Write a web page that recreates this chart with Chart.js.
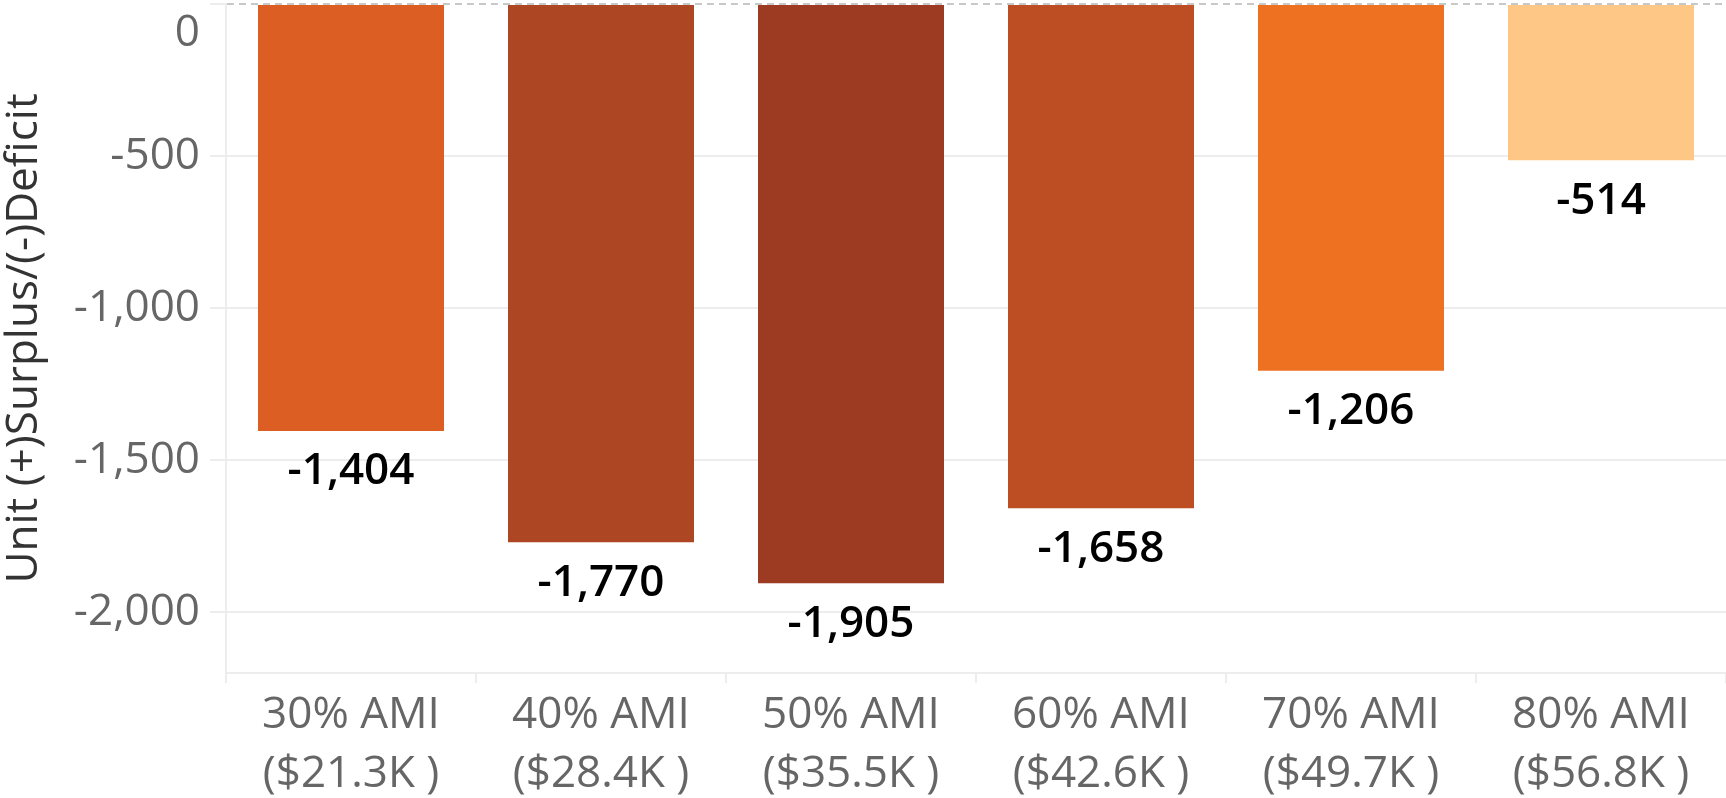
<!DOCTYPE html>
<html>
<head>
<meta charset="utf-8">
<title>Unit Surplus / Deficit by AMI Level</title>
<script src="https://cdn.jsdelivr.net/npm/chart.js@4/dist/chart.umd.min.js"></script>
<style>
  html, body { margin: 0; padding: 0; background: #ffffff; }
  #wrap { position: relative; width: 1726px; height: 798px; }
</style>
</head>
<body>
<div id="wrap"><canvas id="chart"></canvas></div>
<script>
// Income bands (percent of area median income) and their dollar thresholds
const amiLevels = ['30% AMI', '40% AMI', '50% AMI', '60% AMI', '70% AMI', '80% AMI'];
const incomeLimits = ['($21.3K )', '($28.4K )', '($35.5K )', '($42.6K )', '($49.7K )', '($56.8K )'];

// Unit surplus (+) / deficit (-) per band
const unitBalance = [-1404, -1770, -1905, -1658, -1206, -514];

// Bar fill per band
const barColors = ['#DC5E22', '#AC4623', '#9C3A22', '#BD4E24', '#EE7122', '#FFC785'];

// Value axis range and labelled ticks
const axisMin = -2200;
const axisMax = 0;
const yTicks = [-2000, -1500, -1000, -500, 0];

const FONT = '"Open Sans", "Noto Sans", sans-serif';
const GRID = '#ededed';

const fmt = v => v.toLocaleString('en-US');

// Writes each bar's value just below its end
const valueLabels = {
  id: 'valueLabels',
  afterDatasetsDraw(chart) {
    const { ctx } = chart;
    const meta = chart.getDatasetMeta(0);
    ctx.save();
    ctx.font = '600 44px ' + FONT;
    ctx.fillStyle = '#000000';
    ctx.textAlign = 'center';
    ctx.textBaseline = 'middle';
    meta.data.forEach((bar, i) => {
      ctx.fillText(fmt(unitBalance[i]), bar.x, bar.y + 41);
    });
    ctx.restore();
  }
};

new Chart(document.getElementById('chart'), {
  type: 'bar',
  data: {
    labels: amiLevels.map((lvl, i) => [lvl, incomeLimits[i]]),
    datasets: [{
      data: unitBalance,
      backgroundColor: barColors,
      borderWidth: 0,
      barPercentage: 0.744,
      categoryPercentage: 1
    }]
  },
  options: {
    responsive: true,
    maintainAspectRatio: false,
    devicePixelRatio: 1,
    animation: false,
    layout: { padding: { top: 4, right: 0, bottom: 0, left: 0 } },
    plugins: {
      legend: { display: false },
      tooltip: { enabled: false }
    },
    scales: {
      x: {
        grid: {
          offset: true,
          drawOnChartArea: false,
          drawTicks: true,
          tickLength: 10,
          tickColor: GRID,
          tickWidth: 2,
          lineWidth: 2,
          color: GRID
        },
        border: { display: true, color: GRID, width: 2 },
        ticks: {
          color: '#666666',
          font: { family: FONT, size: 44, lineHeight: 1.34 },
          padding: 3,
          maxRotation: 0,
          autoSkip: false
        },
        afterFit(scale) {
          scale.height = 125;
          scale.paddingLeft = 0;
          scale.paddingRight = 0;
        }
      },
      y: {
        min: axisMin,
        max: axisMax,
        afterBuildTicks(scale) {
          scale.ticks = yTicks.map(v => ({ value: v }));
        },
        grid: {
          color: ctx => (ctx.tick && ctx.tick.value === 0) ? '#c8c8c8' : GRID,
          lineWidth: 2,
          tickColor: GRID,
          tickWidth: 2,
          tickLength: 16
        },
        border: {
          display: true,
          color: GRID,
          width: 2,
          dash: ctx => (ctx.tick && ctx.tick.value === 0) ? [7, 5] : []
        },
        ticks: {
          color: '#666666',
          padding: 10,
          autoSkip: false,
          font: { family: FONT, size: 44, lineHeight: 1.32 },
          callback: v => v === 0 ? ['', '0'] : fmt(v)
        },
        title: {
          display: true,
          text: 'Unit (+)Surplus/(-)Deficit',
          color: '#333333',
          font: { family: FONT, size: 44, lineHeight: 1 },
          padding: { top: 2, bottom: 0 }
        },
        afterFit(scale) {
          scale.width = 226;
          scale.paddingTop = 0;
          scale.paddingBottom = 0;
        }
      }
    }
  },
  plugins: [valueLabels]
});
</script>
</body>
</html>
